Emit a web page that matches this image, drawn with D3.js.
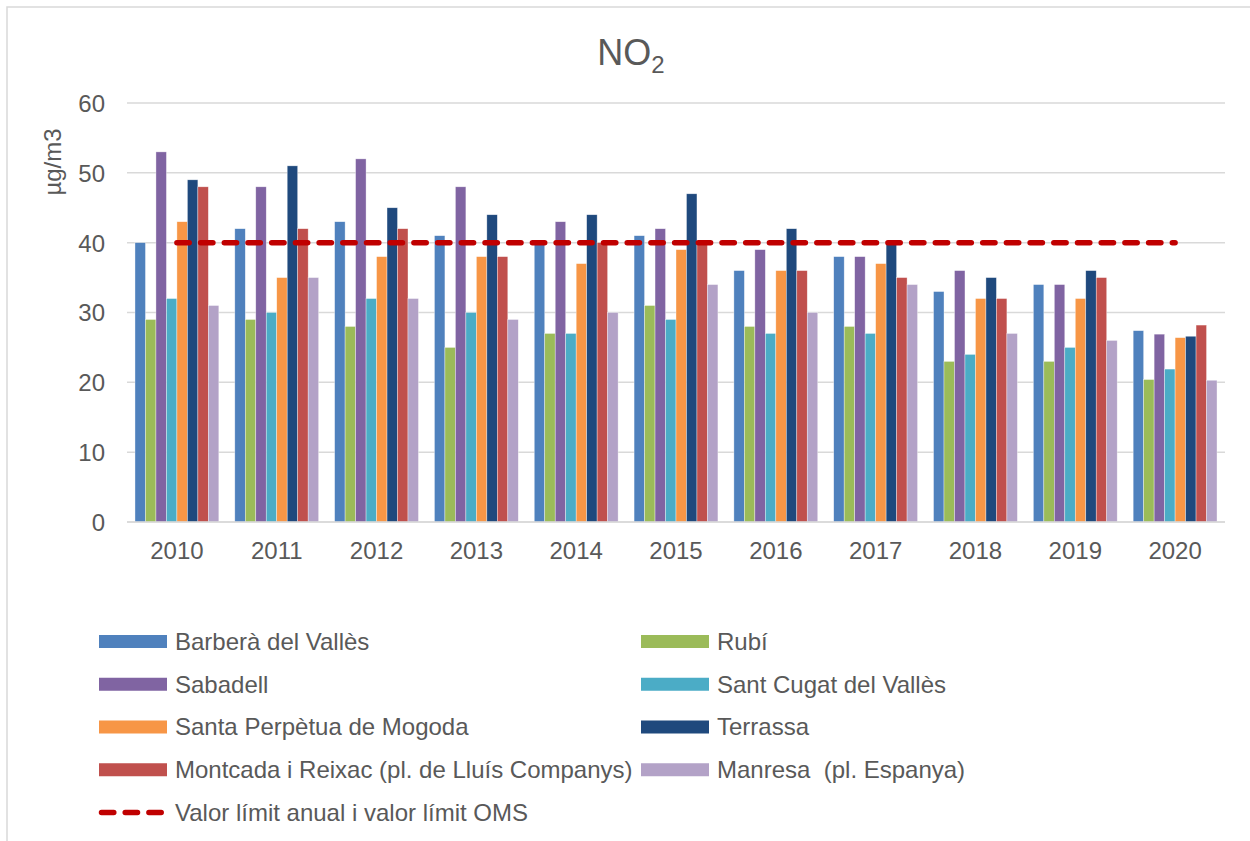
<!DOCTYPE html>
<html>
<head>
<meta charset="utf-8">
<script src="https://cdn.jsdelivr.net/npm/d3@7"></script>
<style>
  html, body { margin: 0; padding: 0; background: #fff; }
  svg { display: block; font-family: "Liberation Sans", Arial, sans-serif; }
  text { white-space: pre; }
</style>
</head>
<body>
<svg id="chart" width="1250" height="841"></svg>
<script>
const years = ["2010","2011","2012","2013","2014","2015","2016","2017","2018","2019","2020"];
const seriesNames = [
  "Barberà del Vallès",
  "Rubí",
  "Sabadell",
  "Sant Cugat del Vallès",
  "Santa Perpètua de Mogoda",
  "Terrassa",
  "Montcada i Reixac (pl. de Lluís Companys)",
  "Manresa  (pl. Espanya)"
];
const seriesColors = ["#4f81bd","#9bbb59","#8064a2","#4bacc6","#f79646","#1f497d","#c0504d","#b3a2c7"];
const barbera     = [40, 42, 43, 41, 40, 41, 36, 38, 33, 34, 27.4];
const rubi        = [29, 29, 28, 25, 27, 31, 28, 28, 23, 23, 20.4];
const sabadell    = [53, 48, 52, 48, 43, 42, 39, 38, 36, 34, 26.9];
const santCugat   = [32, 30, 32, 30, 27, 29, 27, 27, 24, 25, 21.9];
const santaPerpetua = [43, 35, 38, 38, 37, 39, 36, 37, 32, 32, 26.4];
const terrassa    = [49, 51, 45, 44, 44, 47, 42, 40, 35, 36, 26.6];
const montcada    = [48, 42, 42, 38, 40, 40, 36, 35, 32, 35, 28.2];
const manresa     = [31, 35, 32, 29, 30, 34, 30, 34, 27, 26, 20.3];
const limitValues = [40, 40, 40, 40, 40, 40, 40, 40, 40, 40, 40];
const limitName = "Valor límit anual i valor límit OMS";
const yTicks = [0, 10, 20, 30, 40, 50, 60];
const seriesValues = [barbera, rubi, sabadell, santCugat, santaPerpetua, terrassa, montcada, manresa];

const svg = d3.select("#chart");
const textColor = "#595959";
const gridColor = "#d9d9d9";

// outer frame
svg.append("rect").attr("x", 7).attr("y", 7).attr("width", 1260).attr("height", 860)
  .attr("fill", "none").attr("stroke", gridColor).attr("stroke-width", 1.5);

const plot = { left: 127, right: 1225, top: 103, bottom: 522 };

const x0 = d3.scaleBand().domain(years).range([plot.left, plot.right])
  .paddingInner(0.16).paddingOuter(0.08);
const x1 = d3.scaleBand().domain(d3.range(seriesNames.length)).range([0, x0.bandwidth()]);
const y = d3.scaleLinear().domain([0, 60]).range([plot.bottom, plot.top]);

// gridlines
svg.append("g").selectAll("line").data(yTicks).join("line")
  .attr("x1", plot.left).attr("x2", plot.right)
  .attr("y1", d => y(d)).attr("y2", d => y(d))
  .attr("stroke", gridColor).attr("stroke-width", 1.5);

// y axis labels
const yAxis = d3.axisLeft(y).tickValues(yTicks).tickSize(0).tickPadding(0);
const gy = svg.append("g").attr("transform", `translate(${plot.left - 22},0)`).call(yAxis);
gy.select(".domain").remove();
gy.selectAll("text").attr("fill", textColor).attr("font-size", 24)
  .attr("font-family", "Liberation Sans, Arial, sans-serif").attr("dy", "0.35em");

// bars
const groups = svg.append("g").selectAll("g").data(years).join("g")
  .attr("transform", d => `translate(${x0(d)},0)`);
groups.selectAll("rect")
  .data((yr, i) => seriesValues.map((vals, s) => ({ s, v: vals[i] })))
  .join("rect")
  .attr("x", d => x1(d.s))
  .attr("width", x1.bandwidth())
  .attr("y", d => y(d.v))
  .attr("height", d => y(0) - y(d.v))
  .attr("fill", d => seriesColors[d.s])
  .attr("stroke", "#ffffff").attr("stroke-width", 0.6).attr("stroke-opacity", 0.6);

// baseline
svg.append("line").attr("x1", plot.left).attr("x2", plot.right)
  .attr("y1", y(0)).attr("y2", y(0)).attr("stroke", gridColor).attr("stroke-width", 1.5);

// x axis labels
const xAxis = d3.axisBottom(x0).tickSize(0).tickPadding(0);
const gx = svg.append("g").attr("transform", `translate(0,${plot.bottom + 20})`).call(xAxis);
gx.select(".domain").remove();
gx.selectAll("text").attr("fill", textColor).attr("font-size", 24)
  .attr("font-family", "Liberation Sans, Arial, sans-serif").attr("dy", "0.71em");

// limit line (from centre of first to centre of last category)
svg.append("path").datum(limitValues)
  .attr("d", d3.line().x((d, i) => x0(years[i]) + x0.bandwidth() / 2).y(d => y(d)))
  .attr("fill", "none").attr("stroke", "#c00000").attr("stroke-width", 5.5)
  .attr("stroke-dasharray", "12.3 11.4").attr("stroke-linecap", "round");

// title
const title = svg.append("text").attr("x", 631).attr("y", 65).attr("text-anchor", "middle")
  .attr("fill", textColor).attr("font-size", 36);
title.append("tspan").text("NO");
title.append("tspan").attr("font-size", 24).attr("dy", 8).text("2");

// y axis title
svg.append("text").attr("transform", "translate(61,162) rotate(-90)")
  .attr("text-anchor", "middle").attr("fill", textColor).attr("font-size", 24).text("µg/m3");

// legend
const legendItems = seriesNames.map((n, i) => ({ name: n, color: seriesColors[i], col: i % 2, row: Math.floor(i / 2), dashed: false }));
legendItems.push({ name: limitName, color: "#c00000", col: 0, row: 4, dashed: true });
const colX = [99, 641];
const lg = svg.append("g");
const li = lg.selectAll("g").data(legendItems).join("g")
  .attr("transform", d => `translate(${colX[d.col]},${641.5 + d.row * 42.75})`);
li.filter(d => !d.dashed).append("rect").attr("x", 0).attr("y", -6.5).attr("width", 68).attr("height", 13)
  .attr("fill", d => d.color);
li.filter(d => d.dashed).append("line").attr("x1", 2.5).attr("x2", 63).attr("y1", 0).attr("y2", 0)
  .attr("stroke", d => d.color).attr("stroke-width", 5.5).attr("stroke-linecap", "round")
  .attr("stroke-dasharray", "12.3 11.4");
li.append("text").attr("x", 76).attr("y", 0).attr("dy", "0.35em")
  .attr("xml:space", "preserve")
  .attr("fill", textColor).attr("font-size", 24).text(d => d.name);
</script>
</body>
</html>
